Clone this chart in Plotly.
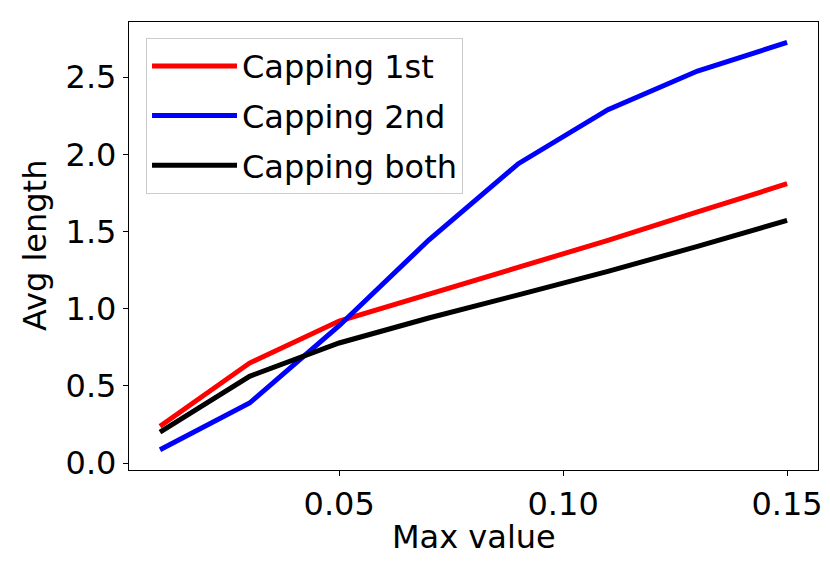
import plotly.graph_objects as go

max_value = [0.01, 0.03, 0.05, 0.07, 0.09, 0.11, 0.13, 0.15]
capping_1st = [0.238, 0.648, 0.92, 1.095, 1.27, 1.443, 1.627, 1.81]
capping_2nd = [0.086, 0.389, 0.89, 1.445, 1.94, 2.29, 2.54, 2.726]
capping_both = [0.20, 0.562, 0.778, 0.94, 1.09, 1.242, 1.404, 1.573]

x_ticks = [0.05, 0.10, 0.15]
x_tick_labels = ["0.05", "0.10", "0.15"]
y_ticks = [0.0, 0.5, 1.0, 1.5, 2.0, 2.5]
y_tick_labels = ["0.0", "0.5", "1.0", "1.5", "2.0", "2.5"]
x_title = "Max value"
y_title = "Avg length"

series = [
    ("Capping 1st", capping_1st, "#ff0000"),
    ("Capping 2nd", capping_2nd, "#0000ff"),
    ("Capping both", capping_both, "#000000"),
]

FONT = "DejaVu Sans"
fig = go.Figure()
for i, (name, vals, color) in enumerate(series):
    fig.add_trace(go.Scatter(
        x=max_value, y=vals, mode="lines", name=name,
        legendgroup=f"g{i}",
        line=dict(color=color, width=5),
    ))

axis_common = dict(
    showgrid=False, zeroline=False, showline=True, linecolor="black",
    linewidth=1.3, mirror=True, ticks="outside", ticklen=5, tickwidth=1.3,
    tickcolor="black", tickfont=dict(family=FONT, size=32, color="black"),
)

# plot area: x 121..810, y 14..462 px
fig.update_layout(
    width=830, height=563,
    margin=dict(l=121, r=20, t=14, b=101),
    paper_bgcolor="white", plot_bgcolor="white",
    font=dict(family=FONT, size=32, color="black"),
    xaxis=dict(range=[0.00308, 0.1569], tickvals=x_ticks, ticktext=x_tick_labels,
               **axis_common),
    yaxis=dict(range=[-0.045, 2.858], tickvals=y_ticks, ticktext=y_tick_labels,
               **axis_common),
    legend=dict(
        x=0.0247, y=0.965, xanchor="left", yanchor="top",
        bgcolor="rgba(255,255,255,0.8)", bordercolor="#cccccc", borderwidth=1,
        font=dict(family=FONT, size=32, color="black"),
        itemwidth=85, tracegroupgap=5, traceorder="grouped",
    ),
    annotations=[
        dict(text=x_title, xref="paper", yref="paper", x=0.5, y=-67 / 448,
             xanchor="center", yanchor="middle", showarrow=False,
             font=dict(family=FONT, size=32, color="black")),
        dict(text=y_title, xref="paper", yref="paper", x=-94 / 689, y=0.5,
             xanchor="center", yanchor="middle", showarrow=False, textangle=-90,
             font=dict(family=FONT, size=32, color="black")),
    ],
)

fig.write_html("out.html")
